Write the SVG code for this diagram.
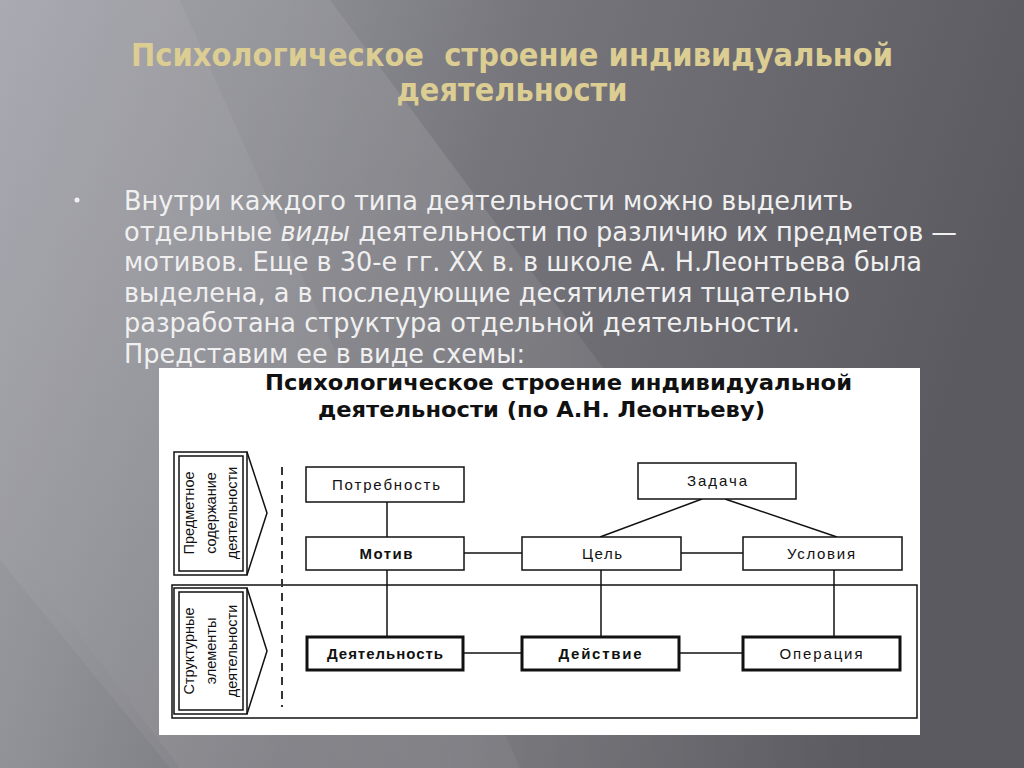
<svg xmlns="http://www.w3.org/2000/svg" width="1024" height="768" viewBox="0 0 1024 768">
<defs>
<linearGradient id="bg" x1="0" y1="0" x2="1" y2="0.25">
<stop offset="0" stop-color="#a6a6ae"/>
<stop offset="0.25" stop-color="#909097"/>
<stop offset="0.5" stop-color="#75757b"/>
<stop offset="1" stop-color="#5b5a60"/>
</linearGradient>
<linearGradient id="streak" x1="0" y1="0" x2="1" y2="0">
<stop offset="0" stop-color="#ffffff" stop-opacity="0"/>
<stop offset="0.5" stop-color="#ffffff" stop-opacity="0.10"/>
<stop offset="1" stop-color="#ffffff" stop-opacity="0"/>
</linearGradient>
<style>
.title{font-family:"DejaVu Sans Condensed","DejaVu Sans",sans-serif;font-stretch:condensed;font-weight:bold;font-size:32px;fill:#dccd93;}
.body{font-family:"DejaVu Sans Condensed","DejaVu Sans",sans-serif;font-stretch:condensed;font-size:27px;fill:#f0f0f0;}
.dtitle{font-family:"DejaVu Sans",sans-serif;font-weight:bold;font-size:21px;fill:#111;}
.box{fill:#fff;stroke:#111;stroke-width:1.5;}
.boxb{fill:#fff;stroke:#111;stroke-width:3;}
.lbl{font-family:"Liberation Sans",Arial,sans-serif;font-size:15px;fill:#111;text-anchor:middle;}
.lblb{font-family:"Liberation Sans",Arial,sans-serif;font-size:15px;font-weight:bold;fill:#111;text-anchor:middle;}
.side{font-family:"Liberation Sans",Arial,sans-serif;font-size:14.5px;fill:#111;text-anchor:middle;}
.ln{stroke:#111;stroke-width:1.5;fill:none;}
</style>
</defs>
<rect width="1024" height="768" fill="url(#bg)"/>
<polygon points="0,0 330,0 900,768 180,768 0,530" fill="url(#streak)"/>
<polygon points="0,0 180,0 520,768 170,768 0,560" fill="#ffffff" opacity="0.05"/>

<g id="slide-title">
<text class="title" x="512" y="66" text-anchor="middle" xml:space="preserve" textLength="762" lengthAdjust="spacingAndGlyphs">Психологическое  строение индивидуальной</text>
<text class="title" x="512" y="101" text-anchor="middle" textLength="231" lengthAdjust="spacingAndGlyphs">деятельности</text>
</g>

<g id="bullet-text">
<circle cx="77" cy="200" r="2.5" fill="#f0f0f0"/>
<text class="body" x="124" y="210" textLength="729" lengthAdjust="spacingAndGlyphs">Внутри каждого типа деятельности можно выделить</text>
<text class="body" x="124" y="241" textLength="833" lengthAdjust="spacingAndGlyphs">отдельные <tspan font-style="italic">виды</tspan> деятельности по различию их предметов —</text>
<text class="body" x="124" y="271" textLength="798" lengthAdjust="spacingAndGlyphs">мотивов. Еще в 30-е гг. XX в. в школе А. Н.Леонтьева была</text>
<text class="body" x="124" y="302" textLength="726" lengthAdjust="spacingAndGlyphs">выделена, а в последующие десятилетия тщательно</text>
<text class="body" x="124" y="332" textLength="676" lengthAdjust="spacingAndGlyphs">разработана структура отдельной деятельности.</text>
<text class="body" x="124" y="363" textLength="401" lengthAdjust="spacingAndGlyphs">Представим ее в виде схемы:</text>
</g>

<g id="panel">
<rect x="159" y="368" width="761" height="367" fill="#ffffff"/>
<text class="dtitle" x="265" y="390" textLength="587" lengthAdjust="spacingAndGlyphs">Психологическое строение индивидуальной</text>
<text class="dtitle" x="318" y="417" textLength="447" lengthAdjust="spacingAndGlyphs">деятельности (по А.Н. Леонтьеву)</text>
<rect x="172" y="585" width="745" height="133" class="ln"/>
<line x1="282" y1="467" x2="282" y2="707" stroke="#333" stroke-width="2" stroke-dasharray="8 6"/>
</g>

<g id="label-subject">
<rect x="174" y="452" width="73" height="123" class="ln"/>
<rect x="179" y="456" width="64" height="115" class="ln" stroke-width="1.2"/>
<polyline points="247,452 267,513 247,575" class="ln" stroke-width="1.2"/>
<g transform="translate(0,513) rotate(-90)">
<text class="side" x="0" y="194">Предметное</text>
<text class="side" x="0" y="216">содержание</text>
<text class="side" x="0" y="237">деятельности</text>
</g>
</g>

<g id="label-structure">
<rect x="174" y="588" width="73" height="126" class="ln"/>
<rect x="179" y="592" width="64" height="118" class="ln" stroke-width="1.2"/>
<polyline points="247,588 267,651 247,714" class="ln" stroke-width="1.2"/>
<g transform="translate(0,651) rotate(-90)">
<text class="side" x="0" y="194">Структурные</text>
<text class="side" x="0" y="216">элементы</text>
<text class="side" x="0" y="237">деятельности</text>
</g>
</g>

<g id="connectors">
<line class="ln" x1="387" y1="502" x2="387" y2="537"/>
<line class="ln" x1="464" y1="553" x2="522" y2="553"/>
<line class="ln" x1="702" y1="499" x2="600" y2="537"/>
<line class="ln" x1="725" y1="499" x2="837" y2="537"/>
<line class="ln" x1="681" y1="553" x2="743" y2="553"/>
<line class="ln" x1="387" y1="570" x2="387" y2="637"/>
<line class="ln" x1="601" y1="570" x2="601" y2="637"/>
<line class="ln" x1="834" y1="570" x2="834" y2="637"/>
<line class="ln" x1="463" y1="653" x2="522" y2="653"/>
<line class="ln" x1="679" y1="653" x2="743" y2="653"/>
</g>

<g id="node-need">
<rect class="box" x="306" y="467" width="158" height="35"/>
<text class="lbl" x="386" y="490" textLength="108" lengthAdjust="spacing">Потребность</text>
</g>
<g id="node-motive">
<rect class="box" x="306" y="537" width="158" height="33"/>
<text class="lblb" x="386" y="559" textLength="53" lengthAdjust="spacing">Мотив</text>
</g>
<g id="node-task">
<rect class="box" x="638" y="463" width="158" height="36"/>
<text class="lbl" x="717" y="486" textLength="60" lengthAdjust="spacing">Задача</text>
</g>
<g id="node-goal">
<rect class="box" x="522" y="537" width="159" height="33"/>
<text class="lbl" x="602" y="559" textLength="40" lengthAdjust="spacing">Цель</text>
</g>
<g id="node-conditions">
<rect class="box" x="743" y="537" width="159" height="33"/>
<text class="lbl" x="821" y="559" textLength="68" lengthAdjust="spacing">Условия</text>
</g>
<g id="node-activity">
<rect class="boxb" x="307" y="637" width="156" height="33"/>
<text class="lblb" x="385" y="659" textLength="116" lengthAdjust="spacing">Деятельность</text>
</g>
<g id="node-action">
<rect class="boxb" x="522" y="637" width="157" height="33"/>
<text class="lblb" x="600" y="659" textLength="83" lengthAdjust="spacing">Действие</text>
</g>
<g id="node-operation">
<rect class="boxb" x="743" y="637" width="157" height="33"/>
<text class="lbl" x="821" y="659" textLength="83" lengthAdjust="spacing">Операция</text>
</g>
</svg>
